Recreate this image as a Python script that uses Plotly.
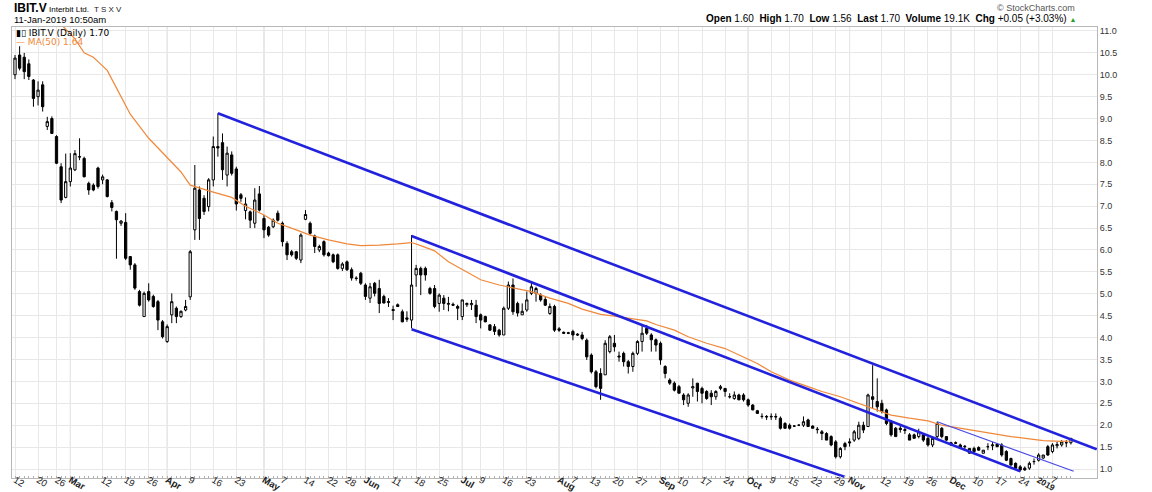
import pandas as pd
import plotly.graph_objects as go

# ---------------- data ----------------
holidays = ["2018-02-19", "2018-03-30", "2018-05-21", "2018-07-02", "2018-08-06",
            "2018-09-03", "2018-10-08", "2018-12-25", "2018-12-26", "2019-01-01"]
trading_days = [d.strftime("%Y-%m-%d") for d in pd.bdate_range("2018-02-12", "2019-01-11")
                if d.strftime("%Y-%m-%d") not in holidays]

open_ = [10.0, 10.45, 10.4, 10.25, 9.88, 9.5, 9.77, 8.82, 9.0, 8.59,
         7.9, 7.2, 7.56, 7.83, 8.12, 8.09, 7.52, 7.48, 7.87, 7.6,
         7.6, 7.08, 6.88, 6.61, 6.63, 5.85, 5.66, 5.05, 4.48, 5.05,
         4.94, 4.82, 4.36, 3.91, 4.52, 4.67, 4.48, 4.63, 4.93, 6.46,
         7.37, 7.18, 6.99, 7.6, 8.36, 8.45, 7.71, 8.17, 7.85, 7.26,
         6.9, 6.87, 6.61, 7.28, 6.72, 6.52, 6.53, 6.84, 6.61, 6.15,
         5.96, 5.96, 5.77, 6.7, 6.61, 6.32, 6.0, 6.19, 5.93, 5.89,
         5.89, 5.58, 5.73, 5.55, 5.36, 5.47, 5.2, 4.9, 5.24, 5.12,
         4.94, 4.8, 4.64, 4.75, 4.59, 4.45, 4.4, 5.43, 5.58, 5.58,
         5.12, 5.12, 4.78, 4.9, 4.76, 4.76, 4.71, 4.48, 4.75, 4.75,
         4.74, 4.52, 4.48, 4.29, 4.25, 4.17, 4.06, 4.67, 5.2, 4.78,
         4.52, 4.63, 5.01, 5.01, 4.97, 4.87, 4.55, 4.71, 4.2, 4.12,
         4.11, 4.14, 4.08, 4.06, 3.94, 3.6, 3.22, 3.18, 3.15, 3.68,
         3.87, 3.58, 3.64, 3.45, 3.34, 3.64, 3.91, 4.21, 4.06, 3.95,
         3.87, 3.34, 3.03, 2.96, 2.88, 2.69, 2.5, 2.85, 2.96, 2.84,
         2.77, 2.73, 2.65, 2.84, 2.84, 2.65, 2.61, 2.69, 2.69, 2.58,
         2.46, 2.33, 2.2, 2.2, 2.19, 2.2, 2.16, 2.04, 2.0, 1.98,
         2.0, 2.0, 2.12, 1.98, 1.91, 1.85, 1.81, 1.74, 1.62, 1.28,
         1.58, 1.62, 1.66, 1.7, 2.0, 1.97, 2.65, 2.54, 2.5, 2.35,
         2.08, 1.93, 1.93, 1.9, 1.78, 1.78, 1.74, 1.78, 1.7, 1.55,
         1.74, 1.93, 1.74, 1.6, 1.6, 1.55, 1.52, 1.36, 1.47, 1.49,
         1.36, 1.51, 1.53, 1.57, 1.55, 1.4, 1.24, 1.13, 1.05, 1.02,
         1.02, 1.17, 1.2, 1.25, 1.51, 1.4, 1.53, 1.55, 1.6, 1.60]

high = [10.45, 10.65, 10.5, 10.35, 9.9, 9.85, 9.85, 9.04, 9.05, 8.62,
        7.98, 8.2, 8.21, 8.28, 8.55, 8.13, 7.56, 7.52, 7.9, 7.72,
        7.62, 7.14, 6.9, 6.68, 6.84, 5.86, 5.7, 5.09, 5.05, 5.24,
        4.98, 4.86, 4.4, 4.3, 5.01, 4.71, 4.62, 4.86, 6.0, 7.94,
        7.45, 7.25, 7.64, 8.59, 9.12, 8.66, 8.36, 8.25, 7.9, 7.3,
        7.2, 6.9, 7.41, 7.46, 6.8, 6.55, 6.72, 6.9, 6.65, 6.2,
        6.0, 5.98, 6.38, 6.91, 6.65, 6.35, 6.12, 6.22, 5.96, 5.92,
        5.92, 5.72, 5.76, 5.6, 5.4, 5.5, 5.24, 5.25, 5.27, 5.32,
        4.98, 4.9, 4.73, 4.78, 4.64, 4.6, 6.34, 5.66, 5.62, 5.62,
        5.16, 5.2, 5.01, 4.97, 4.93, 4.8, 4.75, 4.86, 4.8, 4.86,
        4.86, 4.55, 4.5, 4.31, 4.31, 4.2, 4.71, 5.28, 5.35, 4.82,
        4.78, 5.05, 5.28, 5.16, 5.01, 4.93, 4.78, 4.75, 4.24, 4.14,
        4.13, 4.18, 4.1, 4.13, 3.98, 3.64, 3.26, 3.3, 3.94, 4.06,
        4.06, 3.68, 3.68, 3.49, 3.68, 3.94, 4.29, 4.29, 4.1, 3.98,
        3.91, 3.37, 3.07, 3.0, 2.92, 2.73, 2.73, 3.07, 2.96, 2.88,
        2.8, 2.8, 2.8, 2.92, 2.84, 2.73, 2.77, 2.72, 2.73, 2.61,
        2.48, 2.35, 2.27, 2.23, 2.27, 2.27, 2.2, 2.07, 2.04, 2.0,
        2.02, 2.2, 2.15, 2.0, 1.96, 1.89, 1.84, 1.77, 1.66, 1.5,
        1.62, 1.7, 1.89, 2.08, 2.08, 2.72, 3.37, 3.07, 2.58, 2.38,
        2.12, 1.96, 2.0, 1.96, 1.82, 1.81, 1.92, 1.82, 1.74, 1.74,
        2.08, 1.96, 1.75, 1.62, 1.63, 1.58, 1.55, 1.47, 1.51, 1.52,
        1.43, 1.59, 1.62, 1.59, 1.59, 1.43, 1.26, 1.15, 1.09, 1.06,
        1.17, 1.24, 1.36, 1.32, 1.55, 1.59, 1.62, 1.66, 1.66, 1.70]

low = [9.9, 10.1, 9.9, 9.88, 9.27, 9.3, 9.16, 8.74, 8.65, 7.96,
       7.07, 7.18, 7.45, 7.8, 8.05, 7.66, 7.26, 7.34, 7.4, 7.5,
       7.2, 6.88, 5.8, 6.55, 5.77, 5.55, 5.09, 4.71, 4.48, 4.82,
       4.68, 4.17, 3.98, 3.88, 4.33, 4.33, 4.45, 4.6, 4.86, 6.23,
       6.23, 6.8, 6.88, 7.45, 8.13, 7.6, 7.45, 7.7, 6.9, 7.1,
       6.7, 6.5, 6.5, 6.88, 6.27, 6.3, 6.5, 6.65, 6.08, 5.77,
       5.85, 5.77, 5.7, 6.68, 6.35, 5.93, 5.95, 5.85, 5.85, 5.7,
       5.55, 5.52, 5.52, 5.3, 5.3, 5.2, 4.86, 4.79, 4.94, 4.56,
       4.78, 4.7, 4.4, 4.7, 4.35, 4.36, 4.21, 5.16, 4.97, 5.3,
       4.98, 4.67, 4.59, 4.63, 4.6, 4.72, 4.4, 4.4, 4.7, 4.63,
       4.33, 4.21, 4.35, 4.15, 4.06, 4.02, 4.06, 4.63, 4.52, 4.48,
       4.52, 4.59, 4.97, 4.82, 4.82, 4.72, 4.52, 4.13, 4.13, 4.08,
       4.08, 3.94, 4.04, 3.94, 3.49, 3.18, 2.84, 2.58, 3.15, 3.64,
       3.68, 3.45, 3.34, 3.18, 3.22, 3.6, 3.68, 4.06, 3.68, 3.68,
       3.38, 3.07, 2.92, 2.77, 2.73, 2.46, 2.42, 2.65, 2.54, 2.5,
       2.58, 2.46, 2.58, 2.8, 2.65, 2.61, 2.58, 2.57, 2.54, 2.42,
       2.34, 2.26, 2.15, 2.12, 2.12, 2.12, 1.9, 1.92, 1.9, 1.96,
       1.98, 1.96, 1.96, 1.93, 1.81, 1.66, 1.66, 1.52, 1.24, 1.24,
       1.43, 1.51, 1.62, 1.66, 1.82, 1.96, 2.39, 2.31, 2.27, 2.0,
       1.74, 1.74, 1.83, 1.8, 1.66, 1.7, 1.7, 1.62, 1.51, 1.5,
       1.66, 1.7, 1.64, 1.53, 1.57, 1.47, 1.43, 1.35, 1.38, 1.42,
       1.36, 1.43, 1.43, 1.5, 1.28, 1.18, 1.08, 0.98, 0.94, 0.96,
       0.98, 1.1, 1.17, 1.23, 1.3, 1.36, 1.47, 1.51, 1.5, 1.56]

close = [10.38, 10.15, 10.07, 9.96, 9.46, 9.65, 9.27, 8.93, 8.66, 7.98,
         7.14, 7.56, 7.87, 8.2, 8.13, 7.67, 7.37, 7.37, 7.45, 7.67,
         7.22, 6.97, 6.69, 6.66, 5.81, 5.66, 5.13, 4.74, 5.01, 4.86,
         4.71, 4.40, 4.02, 4.25, 4.82, 4.48, 4.6, 4.71, 5.96, 7.41,
         6.72, 6.88, 7.6, 8.36, 8.33, 7.83, 8.21, 7.75, 7.05, 7.18,
         7.05, 6.68, 7.14, 6.91, 6.46, 6.34, 6.68, 6.68, 6.19, 5.89,
         5.89, 5.81, 6.34, 6.81, 6.38, 6.08, 6.08, 5.89, 5.87, 5.73,
         5.58, 5.68, 5.55, 5.36, 5.35, 5.24, 4.94, 5.16, 5.01, 4.78,
         4.79, 4.82, 4.62, 4.71, 4.36, 4.42, 5.2, 5.58, 5.43, 5.43,
         5.01, 4.71, 4.97, 4.78, 4.78, 4.74, 4.67, 4.86, 4.78, 4.78,
         4.48, 4.4, 4.36, 4.17, 4.14, 4.06, 4.67, 5.2, 4.59, 4.56,
         4.6, 4.86, 5.16, 5.12, 4.86, 4.74, 4.71, 4.17, 4.17, 4.1,
         4.1, 4.06, 4.06, 3.98, 3.56, 3.22, 2.88, 2.84, 3.87, 4.02,
         3.79, 3.56, 3.45, 3.34, 3.64, 3.91, 4.1, 4.1, 3.95, 3.83,
         3.49, 3.18, 2.96, 2.8, 2.73, 2.58, 2.69, 2.88, 2.77, 2.73,
         2.61, 2.65, 2.77, 2.88, 2.77, 2.65, 2.69, 2.58, 2.58, 2.46,
         2.35, 2.27, 2.2, 2.19, 2.2, 2.19, 1.93, 1.93, 1.93, 1.98,
         2.0, 2.08, 1.97, 1.93, 1.9, 1.81, 1.66, 1.55, 1.28, 1.47,
         1.51, 1.6, 1.85, 2.0, 1.89, 2.69, 2.59, 2.42, 2.31, 2.04,
         1.78, 1.74, 1.9, 1.88, 1.66, 1.7, 1.85, 1.66, 1.55, 1.7,
         2.04, 1.74, 1.66, 1.55, 1.59, 1.47, 1.51, 1.47, 1.4, 1.43,
         1.43, 1.51, 1.55, 1.51, 1.32, 1.2, 1.09, 1.02, 0.98, 0.98,
         1.13, 1.17, 1.32, 1.32, 1.32, 1.55, 1.56, 1.62, 1.6, 1.70]

# MA(50) (trading-day index, value)
ma_day = [10, 13, 15, 17, 18, 20, 22, 25, 29, 33, 36, 38, 40, 43, 47, 50, 54, 57, 61, 64,
          68, 72, 75, 79, 83, 86, 88, 91, 94, 98, 101, 105, 109, 112, 116, 120, 123, 127,
          130, 134, 137, 139, 143, 146, 150, 154, 157, 161, 164, 168, 172, 175, 179, 182,
          185, 187, 190, 194, 198, 201, 205, 209, 212, 216, 220, 223, 227, 229]
ma_value = [11.15, 10.82, 10.5, 10.4, 10.3, 10.1, 9.7, 9.1, 8.55, 8.1, 7.78, 7.48, 7.41,
            7.32, 7.2, 7.0, 6.8, 6.61, 6.46, 6.34, 6.23, 6.14, 6.1, 6.11, 6.14, 6.17, 6.1,
            5.98, 5.73, 5.5, 5.32, 5.2, 5.12, 5.05, 4.9, 4.78, 4.65, 4.53, 4.49, 4.42, 4.38,
            4.3, 4.17, 4.02, 3.87, 3.75, 3.6, 3.41, 3.22, 3.03, 2.88, 2.77, 2.65, 2.54,
            2.42, 2.35, 2.23, 2.16, 2.1, 2.0, 1.93, 1.87, 1.81, 1.74, 1.69, 1.65, 1.63, 1.64]

# hand-drawn trend lines: (start day, start price, end day, end price)
thick_lines = [(44, 9.12, 234.6, 1.45),
               (86, 6.32, 218, 0.95),
               (86, 4.19, 180, 0.82)]
thin_lines = [(200, 2.08, 229.6, 0.95)]

tick_dates = ["2018-02-12", "2018-02-20", "2018-02-26", "2018-03-01", "2018-03-12", "2018-03-19",
              "2018-03-26", "2018-04-02", "2018-04-09", "2018-04-16", "2018-04-23", "2018-05-01",
              "2018-05-07", "2018-05-14", "2018-05-22", "2018-05-28", "2018-06-01", "2018-06-11",
              "2018-06-18", "2018-06-25", "2018-07-03", "2018-07-09", "2018-07-16", "2018-07-23",
              "2018-08-01", "2018-08-07", "2018-08-13", "2018-08-20", "2018-08-27", "2018-09-04",
              "2018-09-10", "2018-09-17", "2018-09-24", "2018-10-01", "2018-10-09", "2018-10-15",
              "2018-10-22", "2018-10-29", "2018-11-01", "2018-11-12", "2018-11-19", "2018-11-26",
              "2018-12-03", "2018-12-10", "2018-12-17", "2018-12-24", "2019-01-02", "2019-01-07"]
tick_labels = ["12", "20", "26", "<b>Mar</b>", "12", "19", "26", "<b>Apr</b>", "9", "16", "23",
               "<b>May</b>", "7", "14", "22", "28", "<b>Jun</b>", "11", "18", "25", "<b>Jul</b>",
               "9", "16", "23", "<b>Aug</b>", "7", "13", "20", "27", "<b>Sep</b>", "10", "17",
               "24", "<b>Oct</b>", "9", "15", "22", "29", "<b>Nov</b>", "12", "19", "26",
               "<b>Dec</b>", "10", "17", "24", "<b><span style='font-size:8.5px'>2019</span></b>", "7"]
month_dates = ["2018-03-01", "2018-04-02", "2018-05-01", "2018-06-01", "2018-07-03", "2018-08-01",
               "2018-09-04", "2018-10-01", "2018-11-01", "2018-12-03", "2019-01-02"]

# ---------------- figure ----------------
W, H = 1152, 492
ML, MR, MT, MB = 12, 55, 27, 14
PW, PH = W - ML - MR, H - MT - MB
days = list(range(len(close)))
tickvals = [trading_days.index(d) for d in tick_dates]
monthvals = [trading_days.index(d) for d in month_dates]

def px(x):
    return (x - ML) / PW

def py(y):
    return (H - MB - y) / PH

fig = go.Figure()
fig.add_trace(go.Candlestick(
    x=days, open=open_, high=high, low=low, close=close,
    increasing=dict(line=dict(color="black", width=1), fillcolor="white"),
    decreasing=dict(line=dict(color="black", width=1), fillcolor="black"),
    whiskerwidth=0, showlegend=False, hoverinfo="skip"))
fig.add_trace(go.Scatter(x=ma_day, y=ma_value, mode="lines",
                         line=dict(color="#f0883a", width=1.2), showlegend=False, hoverinfo="skip"))
for (d0, p0, d1, p1) in thick_lines:
    fig.add_trace(go.Scatter(x=[d0, d1], y=[p0, p1], mode="lines",
                             line=dict(color="#2222dd", width=2.6), showlegend=False, hoverinfo="skip"))
for (d0, p0, d1, p1) in thin_lines:
    fig.add_trace(go.Scatter(x=[d0, d1], y=[p0, p1], mode="lines",
                             line=dict(color="#4a4ae6", width=1.2), showlegend=False, hoverinfo="skip"))

shapes = []
for m in monthvals:
    shapes.append(dict(type="line", xref="x", yref="paper", x0=m, x1=m, y0=0, y1=1,
                       line=dict(color="#cfcfcf", width=1), layer="below"))

FONT = "Arial, Liberation Sans, sans-serif"
ann = []
def add(text, x, y, size, color="#000", xanchor="left", family=FONT):
    ann.append(dict(text=text, x=px(x), y=py(y), xref="paper", yref="paper", showarrow=False,
                    xanchor=xanchor, yanchor="middle", font=dict(family=family, size=size, color=color)))

add("<b>IBIT.V</b>", 12, 8, 12)
add("Interbit Ltd.", 47, 9, 8)
add("T S X V", 92, 9, 8, color="#222")
add("11-Jan-2019 10:50am", 12, 20, 9.5)
add("© StockCharts.com", 1077, 8, 9, color="#555", xanchor="right")
add("<b>Open</b> 1.60  <b>High</b> 1.70  <b>Low</b> 1.56  <b>Last</b> 1.70  <b>Volume</b> 19.1K  "
    "<b>Chg</b> +0.05 (+3.03%) <span style='color:#2a9d2a;font-size:7px'>▲</span>",
    1078, 19, 10, xanchor="right")
add("<b>▮▯</b> IBIT.V (Daily) 1.70", 14, 33, 9, color="#000", family="DejaVu Sans, sans-serif")
add("<span style='color:#f0883a'>— MA(50) 1.64</span>", 14, 42, 9, family="DejaVu Sans, sans-serif")

fig.update_layout(
    width=W, height=H,
    margin=dict(l=ML, r=MR, t=MT, b=MB, autoexpand=False),
    paper_bgcolor="white", plot_bgcolor="white",
    shapes=shapes, annotations=ann,
    xaxis=dict(range=[-0.65, 234.66], tickmode="array", tickvals=tickvals, ticktext=tick_labels,
               showgrid=True, gridcolor="#e8e8e8", gridwidth=1, zeroline=False,
               showline=True, linecolor="#b8b8b8", mirror=True, ticks="", ticklen=0,
               ticklabelstandoff=-8,
               tickfont=dict(family=FONT, size=9.5, color="#222"),
               rangeslider=dict(visible=False), automargin=False,
               minor=dict(tickmode="array", tickvals=days, ticks="inside", ticklen=2,
                          tickcolor="#b0b0b0", showgrid=False)),
    yaxis=dict(range=[0.795, 11.09], side="right", tickmode="linear", tick0=1.0, dtick=0.5,
               tickformat=".1f", showgrid=True, gridcolor="#e8e8e8", gridwidth=1, zeroline=False,
               showline=True, linecolor="#b8b8b8", mirror=True, ticks="", automargin=False,
               tickfont=dict(family=FONT, size=9, color="#333")),
)

fig.write_html("out.html")
